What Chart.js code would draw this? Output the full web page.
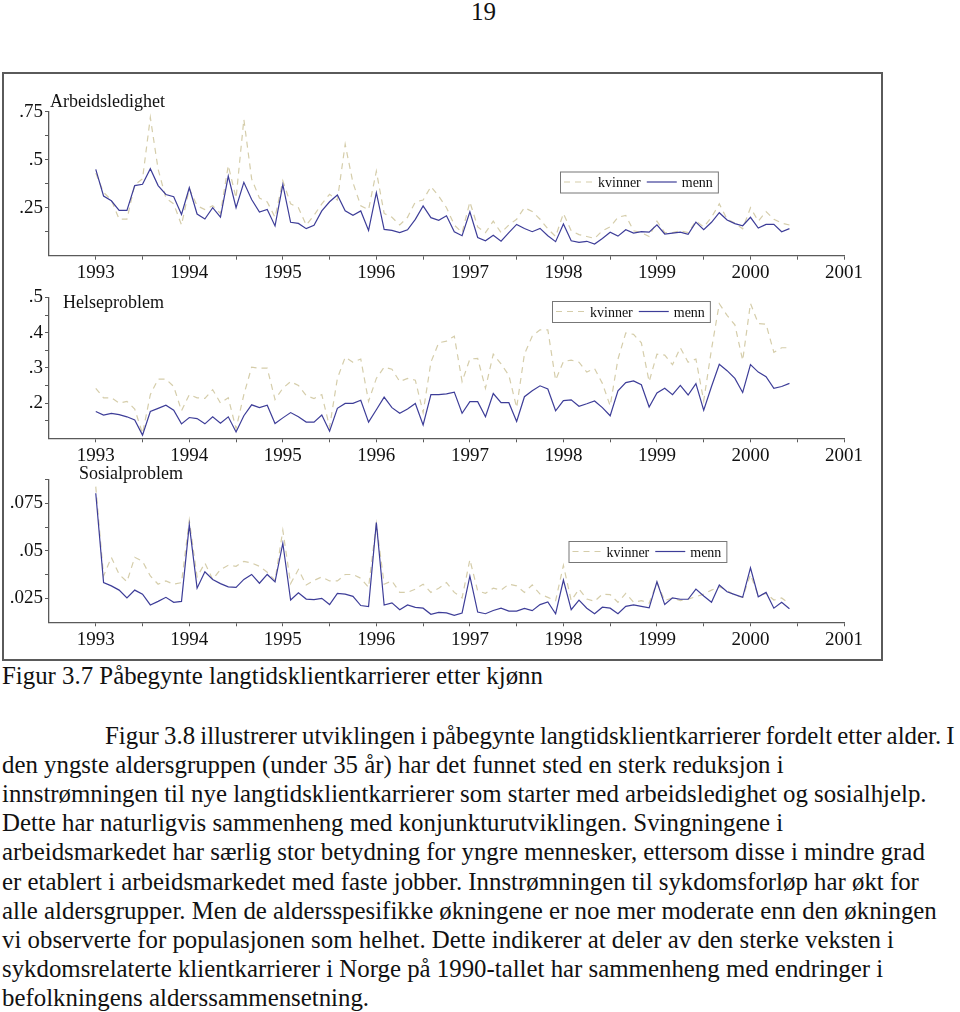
<!DOCTYPE html>
<html lang="no">
<head>
<meta charset="UTF-8">
<title>Figur 3.7</title>
<script src="https://cdn.jsdelivr.net/npm/chart.js"></script>
<style>
  body { margin: 0; background: #fff; }
  #page { position: relative; width: 960px; height: 1012px; overflow: hidden;
          font-family: "Liberation Serif", "Times New Roman", serif; color: #111; }
  #frame { position: absolute; left: 2px; top: 72px; width: 877px; height: 585px; border: 2px solid #5a5a5a; }
  canvas.panel { position: absolute; left: 0; }
  .txt { position: absolute; left: 2px; font-size: 24.85px; line-height: 29px; white-space: nowrap; }
</style>
</head>
<body>
<div id="page">
  <div class="txt" style="left:471px; top:-3px; font-size:25px;">19</div>
  <div id="frame"></div>
  <canvas id="c1" class="panel" width="884" height="206" style="top:76px"></canvas>
  <canvas id="c2" class="panel" width="884" height="180" style="top:284px"></canvas>
  <canvas id="c3" class="panel" width="884" height="190" style="top:466px"></canvas>
  <div id="text"></div>
</div>
<script>
  // månedlige verdier, januar 1993 - juni 2000
  const startYear = 1993
  const yearTicks = ['1993', '1994', '1995', '1996', '1997', '1998', '1999', '2000', '2001']

  const arbKvinner = [
    .43, .33, .29, .19, .19, .37, .40, .72, .45, .30, .27, .16,
    .35, .26, .24, .26, .22, .47, .30, .71, .40, .30, .28, .20,
    .39, .27, .25, .16, .21, .27, .32, .29, .58, .38, .26, .24,
    .44, .22, .20, .16, .20, .28, .29, .36, .31, .25, .16, .12,
    .28, .15, .12, .18, .12, .16, .19, .25, .23, .19, .14, .10,
    .22, .13, .11, .10, .09, .13, .15, .20, .21, .13, .12, .10,
    .18, .12, .12, .13, .12, .18, .15, .20, .27, .19, .17, .14,
    .25, .18, .23, .19, .17, .16
  ]
  const arbMenn = [
    .45, .311, .286, .236, .236, .365, .372, .453, .365, .319, .307, .215,
    .354, .217, .191, .25, .201, .415, .25, .382, .293, .227, .241, .155,
    .37, .174, .168, .141, .158, .233, .281, .316, .234, .21, .233, .132,
    .328, .137, .132, .12, .135, .189, .259, .198, .184, .208, .125, .104,
    .229, .095, .078, .106, .076, .12, .163, .142, .125, .142, .104, .073,
    .165, .078, .069, .075, .061, .09, .122, .102, .135, .118, .125, .123,
    .161, .113, .118, .123, .111, .175, .135, .174, .224, .186, .167, .156,
    .2, .144, .163, .163, .125, .141
  ]
  const helseKvinner = [
    .242, .215, .215, .2, .205, .183, .113, .224, .268, .268, .247, .178,
    .224, .215, .213, .238, .2, .215, .127, .224, .302, .299, .299, .21,
    .242, .261, .25, .221, .213, .224, .132, .27, .33, .316, .325, .205,
    .27, .302, .296, .261, .27, .265, .173, .316, .371, .376, .39, .261,
    .325, .327, .242, .339, .311, .279, .187, .339, .39, .408, .408, .265,
    .318, .322, .316, .288, .298, .256, .192, .325, .399, .395, .371, .261,
    .339, .336, .309, .357, .316, .325, .206, .353, .482, .449, .422, .321,
    .483, .426, .424, .344, .357, .357
  ]
  const helseMenn = [
    .176, .166, .171, .167, .161, .152, .109, .176, .185, .194, .18, .141,
    .159, .156, .141, .161, .143, .161, .118, .164, .195, .187, .194, .142,
    .158, .173, .161, .146, .146, .166, .12, .185, .199, .199, .208, .146,
    .181, .217, .187, .171, .183, .199, .138, .224, .224, .226, .231, .171,
    .204, .204, .161, .227, .201, .201, .148, .218, .235, .249, .24, .178,
    .207, .209, .191, .198, .206, .187, .164, .235, .258, .263, .252, .189,
    .229, .242, .224, .25, .223, .255, .18, .247, .31, .292, .27, .23,
    .309, .288, .275, .242, .247, .256
  ]
  const sosKvinner = [
    .0837, .0368, .0466, .0376, .0338, .0466, .0445, .0368, .0325, .0342, .0325, .0333,
    .066, .0363, .0436, .035, .0402, .0424, .0419, .0445, .0436, .0419, .0388, .0345,
    .0608, .0328, .0402, .0321, .0345, .0363, .0342, .0342, .0376, .0376, .0356, .0308,
    .0643, .0325, .0342, .0282, .0282, .0299, .0325, .0282, .0304, .0333, .0282, .0253,
    .0454, .029, .0277, .0304, .0294, .0325, .0316, .0282, .0321, .0273, .0256, .0239,
    .0424, .0239, .0299, .0247, .0235, .0273, .027, .023, .0277, .023, .0239, .0225,
    .0333, .0239, .0253, .0239, .0247, .0259, .0273, .0294, .0311, .0294, .0265, .0256,
    .0376, .0265, .0277, .0242, .0253, .0222
  ]
  const sosMenn = [
    .0802, .0333, .0316, .0294, .0253, .0294, .0273, .0216, .0235, .0256, .023, .0235,
    .0637, .0304, .039, .035, .0328, .0311, .0308, .035, .0376, .033, .0376, .0337,
    .054, .0242, .028, .0247, .0244, .0251, .0218, .0277, .0273, .0261, .0213, .0208,
    .0648, .0216, .0227, .0191, .0216, .0203, .0199, .0167, .0177, .0174, .0162, .0174,
    .0368, .0179, .017, .0187, .0199, .0184, .0184, .0198, .0186, .0218, .0232, .017,
    .0347, .0191, .0241, .0199, .017, .0204, .0199, .017, .0209, .0216, .0209, .0201,
    .0338, .0218, .0253, .0246, .0246, .0299, .0263, .023, .0321, .0285, .027, .0256,
    .0411, .0259, .0282, .0199, .023, .0196
  ]

  // y-akse: merkede verdier per panel
  const arbYTicks = [[.25, '.25'], [.5, '.5'], [.75, '.75']]
  const helseYTicks = [[.2, '.2'], [.3, '.3'], [.4, '.4'], [.5, '.5']]
  const sosYTicks = [[.025, '.025'], [.05, '.05'], [.075, '.075']]

  const seriesNames = ['kvinner', 'menn']

  const caption = 'Figur 3.7 Påbegynte langtidsklientkarrierer etter kjønn'
  const paragraph = [
    'Figur 3.8 illustrerer utviklingen i påbegynte langtidsklientkarrierer fordelt etter alder. I',
    'den yngste aldersgruppen (under 35 år) har det funnet sted en sterk reduksjon i',
    'innstrømningen til nye langtidsklientkarrierer som starter med arbeidsledighet og sosialhjelp.',
    'Dette har naturligvis sammenheng med konjunkturutviklingen. Svingningene i',
    'arbeidsmarkedet har særlig stor betydning for yngre mennesker, ettersom disse i mindre grad',
    'er etablert i arbeidsmarkedet med faste jobber. Innstrømningen til sykdomsforløp har økt for',
    'alle aldersgrupper. Men de aldersspesifikke økningene er noe mer moderate enn den økningen',
    'vi observerte for populasjonen som helhet. Dette indikerer at deler av den sterke veksten i',
    'sykdomsrelaterte klientkarrierer i Norge på 1990-tallet har sammenheng med endringer i',
    'befolkningens alderssammensetning.'
  ]

  const kvColor = '#d5cdaa'
  const mnColor = '#3d3d98'
  const axisColor = '#5a5a5a'
  const serif = '"Liberation Serif", "Times New Roman", serif'

  // tittel og forklaring tegnes inne i hvert panel
  const panelText = {
    id: 'panelText',
    afterDraw(chart, args, o) {
      const ctx = chart.ctx
      ctx.save()
      ctx.fillStyle = '#111'
      ctx.font = '18px ' + serif
      ctx.textBaseline = 'alphabetic'
      ctx.fillText(o.title, o.titleX, o.titleY - o.top)

      const lx = o.legendX, ly = o.legendY - o.top, h = 21
      ctx.font = '14px ' + serif
      const w1 = ctx.measureText(seriesNames[0]).width
      const w2 = ctx.measureText(seriesNames[1]).width
      const w = 4 + 28 + 6 + w1 + 6 + 30 + 5 + w2 + 5
      const mid = ly + h / 2
      ctx.strokeStyle = '#777'
      ctx.lineWidth = 1
      ctx.strokeRect(lx + 0.5, ly + 0.5, w, h)

      let x = lx + 4
      ctx.strokeStyle = kvColor
      ctx.lineWidth = 1.2
      ctx.setLineDash([6, 5])
      ctx.beginPath(); ctx.moveTo(x, mid); ctx.lineTo(x + 28, mid); ctx.stroke()
      ctx.setLineDash([])
      x += 34
      ctx.fillText(seriesNames[0], x, mid + 5)
      x += w1 + 6
      ctx.strokeStyle = mnColor
      ctx.beginPath(); ctx.moveTo(x, mid); ctx.lineTo(x + 30, mid); ctx.stroke()
      x += 35
      ctx.fillText(seriesNames[1], x, mid + 5)
      ctx.restore()
    }
  }

  function toPoints(values) {
    return values.map((v, i) => ({ x: startYear + i / 12, y: v }))
  }

  // faste tikk: alle trinn fra min til max
  function fixedTicks(min, max, step) {
    return scale => {
      const n = Math.round((max - min) / step)
      const t = []
      for (let k = 0; k <= n; k++) t.push({ value: +(min + k * step).toFixed(6) })
      scale.ticks = t
    }
  }

  function makePanel(id, kv, mn, yMin, yMax, yStep, yTicks, g) {
    const canvas = document.getElementById(id)
    const H = canvas.height
    return new Chart(canvas, {
      type: 'line',
      data: {
        datasets: [
          { label: seriesNames[0], data: toPoints(kv), borderColor: kvColor, borderWidth: 1.2,
            borderDash: [6, 5], pointRadius: 0, tension: 0, order: 1 },
          { label: seriesNames[1], data: toPoints(mn), borderColor: mnColor, borderWidth: 1.2,
            pointRadius: 0, tension: 0, order: 0 }
        ]
      },
      options: {
        responsive: false,
        animation: false,
        events: [],
        layout: { padding: { left: 0, right: 40, top: g.plotTop - g.top, bottom: 0 } },
        plugins: {
          legend: { display: false },
          tooltip: { enabled: false },
          panelText: { top: g.top, title: g.title, titleX: g.titleX, titleY: g.titleY,
                       legendX: g.legendX, legendY: g.legendY }
        },
        scales: {
          x: {
            type: 'linear', min: 1992.5, max: 2001,
            afterBuildTicks: fixedTicks(1992.5, 2001, 0.5),
            afterFit(s) { s.height = H - (g.plotBottom - g.top) },
            ticks: {
              autoSkip: false, maxRotation: 0, padding: 2,
              color: '#111', font: { family: serif, size: 19 },
              callback: v => Number.isInteger(v) ? yearTicks[v - startYear] : ''
            },
            grid: { drawOnChartArea: false, drawTicks: true, tickLength: 4,
                    tickColor: c => c.tick && c.tick.value < startYear ? 'rgba(0,0,0,0)' : axisColor },
            border: { display: true, color: axisColor, width: 1.3 }
          },
          y: {
            min: yMin, max: yMax,
            afterBuildTicks: fixedTicks(yMin, yMax, yStep),
            afterFit(s) { s.width = 49 },
            ticks: {
              autoSkip: false, padding: 2,
              color: '#111', font: { family: serif, size: 19 },
              callback: v => {
                const t = yTicks.find(p => Math.abs(p[0] - v) < 1e-6)
                return t ? t[1] : ''
              }
            },
            grid: { drawOnChartArea: false, drawTicks: true, tickLength: 4,
                    tickColor: c => c.tick && Math.abs(c.tick.value - yMin) < 1e-6 ? 'rgba(0,0,0,0)' : axisColor },
            border: { display: true, color: axisColor, width: 1.3 }
          }
        }
      },
      plugins: [panelText]
    })
  }

  makePanel('c1', arbKvinner, arbMenn, 0, 0.75, 0.125, arbYTicks,
    { top: 76, plotTop: 111.7, plotBottom: 255.7, title: 'Arbeidsledighet', titleX: 50, titleY: 106.5,
      legendX: 560, legendY: 171.5 })
  makePanel('c2', helseKvinner, helseMenn, 0.1, 0.5, 0.05, helseYTicks,
    { top: 284, plotTop: 293.3, plotBottom: 438.3, title: 'Helseproblem', titleX: 63, titleY: 308,
      legendX: 552, legendY: 301 })
  makePanel('c3', sosKvinner, sosMenn, 0.0125, 0.0875, 0.0125, sosYTicks,
    { top: 466, plotTop: 476.7, plotBottom: 622.3, title: 'Sosialproblem', titleX: 79, titleY: 478.5,
      legendX: 568.5, legendY: 541 })

  // bildetekst og brødtekst
  const text = document.getElementById('text')
  const cap = document.createElement('div')
  cap.className = 'txt'
  cap.style.top = (676 - 15) + 'px'
  cap.textContent = caption
  text.appendChild(cap)

  paragraph.forEach((line, k) => {
    const d = document.createElement('div')
    d.className = 'txt'
    if (k === 0) { d.style.left = '105px'; d.style.wordSpacing = '-1px' }
    d.style.top = (736 + k * 29.1 - 15) + 'px'
    d.textContent = line
    text.appendChild(d)
  })
</script>
</body>
</html>
